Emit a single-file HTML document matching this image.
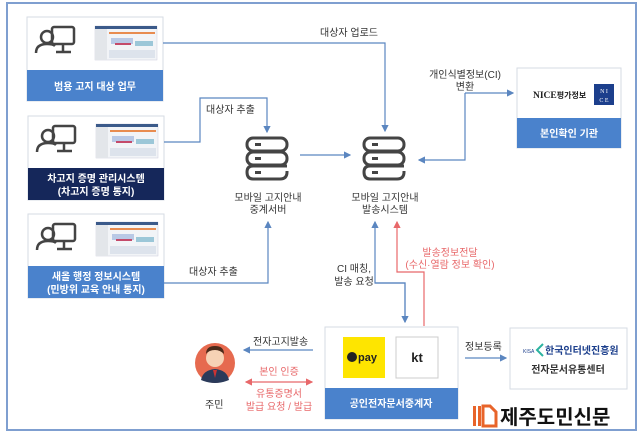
<!DOCTYPE html>
<html><head><meta charset="utf-8"><style>
body{margin:0;background:#fff;}
svg{display:block;font-family:"Liberation Sans","Noto Sans CJK KR",sans-serif;}
</style></head><body>
<svg width="642" height="438" viewBox="0 0 642 438" xmlns="http://www.w3.org/2000/svg">
<defs>
<marker id="ab" markerWidth="6" markerHeight="6" refX="5" refY="3" orient="auto"><path d="M0,0 L6,3 L0,6z" fill="#5b86c0"/></marker>
<marker id="ar" markerWidth="6" markerHeight="6" refX="5" refY="3" orient="auto"><path d="M0,0 L6,3 L0,6z" fill="#e8686a"/></marker>
<marker id="arS" markerWidth="6" markerHeight="6" refX="1" refY="3" orient="auto"><path d="M6,0 L0,3 L6,6z" fill="#e8686a"/></marker>
<g id="pc">
<circle cx="0" cy="0" r="6" fill="none" stroke="#444" stroke-width="2.5"/>
<path d="M-11,16 Q-11,7 0,7 Q6,7 8,9" fill="none" stroke="#444" stroke-width="2.5"/>
<rect x="5" y="-10" width="22" height="17" rx="2" fill="none" stroke="#444" stroke-width="2.5"/>
<path d="M16,7 V14 M9,15 H24" stroke="#444" stroke-width="2.5"/>
</g>
<g id="scr">
<rect x="0" y="0" width="62" height="34" fill="#f2f4f7" stroke="#ccd" stroke-width="0.5"/>
<rect x="0" y="0" width="62" height="3" fill="#3b5a8a"/>
<rect x="0" y="3" width="12" height="31" fill="#e3e6ea"/>
<rect x="14" y="6" width="46" height="2" fill="#e88c50"/>
<rect x="16" y="12" width="22" height="6" fill="#b9c9e6"/>
<rect x="40" y="15" width="18" height="5" fill="#9cc7d8"/>
<rect x="14" y="24" width="46" height="8" fill="#dde3ec"/>
<rect x="20" y="17" width="16" height="2" fill="#c44a6a"/>
</g>
<g id="srv" fill="none" stroke="#444" stroke-width="3">
<rect x="0" y="0" width="40" height="13" rx="6"/>
<rect x="0" y="14" width="40" height="13" rx="6"/>
<path d="M40,33 V34 Q40,41 33,41 H6 Q0,41 0,34 V34 Q0,28 6,28 H40"/>
<path d="M8,6.5 H14 M8,20.5 H14 M8,34.5 H14"/>
</g>
</defs>
<rect x="7" y="3" width="629" height="427" fill="#fff" stroke="#7f9fd0" stroke-width="2"/>

<!-- box1 -->
<rect x="27" y="17" width="136" height="84" fill="#fff" stroke="#d6dbe3"/>
<rect x="27" y="70" width="136" height="31" fill="#4a82cc"/>
<use href="#pc" x="47" y="37"/>
<use href="#scr" x="95" y="26"/>
<text x="95" y="90" fill="#fff" font-size="10" font-weight="bold" text-anchor="middle">범용 고지 대상 업무</text>
<!-- box2 -->
<rect x="28" y="116" width="136" height="84" fill="#fff" stroke="#d6dbe3"/>
<rect x="28" y="168" width="136" height="32" fill="#15275a"/>
<use href="#pc" x="48" y="136"/>
<use href="#scr" x="96" y="124"/>
<text x="96" y="182" fill="#fff" font-size="10" font-weight="bold" text-anchor="middle">차고지 증명 관리시스템</text>
<text x="96" y="195" fill="#fff" font-size="10" font-weight="bold" text-anchor="middle">(차고지 증명 통지)</text>
<!-- box3 -->
<rect x="28" y="214" width="136" height="84" fill="#fff" stroke="#d6dbe3"/>
<rect x="28" y="266" width="136" height="32" fill="#4a82cc"/>
<use href="#pc" x="48" y="234"/>
<use href="#scr" x="96" y="222"/>
<text x="96" y="280" fill="#fff" font-size="10" font-weight="bold" text-anchor="middle">새올 행정 정보시스템</text>
<text x="96" y="293" fill="#fff" font-size="10" font-weight="bold" text-anchor="middle">(민방위 교육 안내 통지)</text>

<!-- servers -->
<use href="#srv" x="247" y="138"/>
<use href="#srv" x="364" y="138"/>
<g font-size="10" fill="#333" text-anchor="middle">
<text x="268" y="201">모바일 고지안내</text><text x="268" y="213">중계서버</text>
<text x="385" y="201">모바일 고지안내</text><text x="385" y="213">발송시스템</text>
</g>

<!-- connectors -->
<g fill="none" stroke="#5b86c0" stroke-width="1.2">
<path d="M163,43 H385 V131" marker-end="url(#ab)"/>
<path d="M164,142 H200 V98 H267 V132" marker-end="url(#ab)"/>
<path d="M300,155 H350" marker-end="url(#ab)"/>
<path d="M465,93 H513" marker-end="url(#ab)"/>
<path d="M465,93 V160 H419" marker-end="url(#ab)"/>
<path d="M164,283 H268 V222" marker-end="url(#ab)"/>
<path d="M405,322 V283 H375 V222" marker-end="url(#ab)"/>
<path d="M375,283 H405 V322" marker-end="url(#ab)"/>
<path d="M313,350 H244" marker-end="url(#ab)"/>
<path d="M465,358 H506" marker-end="url(#ab)"/>
</g>
<g fill="none" stroke="#e8686a" stroke-width="1.2">
<path d="M424,326 V272 H397 V222" marker-end="url(#ar)"/>
<path d="M246,382 H312" marker-end="url(#ar)" marker-start="url(#arS)"/>
</g>
<g font-size="10" fill="#333">
<text x="320" y="36">대상자 업로드</text>
<text x="206" y="113">대상자 추출</text>
<text x="189" y="275">대상자 추출</text>
<text x="465" y="78" text-anchor="middle">개인식별정보(CI)</text>
<text x="465" y="90" text-anchor="middle">변환</text>
<text x="354" y="272" text-anchor="middle">CI 매칭,</text>
<text x="354" y="285" text-anchor="middle">발송 요청</text>
<text x="253" y="345">전자고지발송</text>
<text x="465" y="350">정보등록</text>
<text x="205" y="408">주민</text>
</g>
<g font-size="10" fill="#e8686a" text-anchor="middle">
<text x="450" y="256">발송정보전달</text>
<text x="450" y="268">(수신·열람 정보 확인)</text>
<text x="279" y="375">본인 인증</text>
<text x="279" y="397">유통증명서</text>
<text x="279" y="410">발급 요청 / 발급</text>
</g>

<!-- NICE -->
<rect x="517" y="68" width="104" height="80" fill="#fff" stroke="#d6dbe3"/>
<rect x="517" y="118" width="104" height="30" fill="#4a82cc"/>
<text x="533" y="98" font-family="Liberation Serif,serif" font-size="9.5" font-weight="bold" fill="#222">NICE<tspan font-family="Noto Sans CJK KR" font-size="8">평가정보</tspan></text>
<rect x="594" y="84" width="20" height="21" fill="#1c3f8c"/>
<text x="604" y="93" font-size="6" fill="#fff" text-anchor="middle" font-family="Liberation Serif,serif">N I</text>
<text x="604" y="102" font-size="6" fill="#fff" text-anchor="middle" font-family="Liberation Serif,serif">C E</text>
<text x="569" y="137" fill="#fff" font-size="10" font-weight="bold" text-anchor="middle">본인확인 기관</text>

<!-- center box -->
<rect x="325" y="327" width="133" height="92" fill="#fff" stroke="#d6dbe3"/>
<rect x="325" y="388" width="133" height="31" fill="#4a82cc"/>
<rect x="343" y="337" width="42" height="41" fill="#fee500"/>
<circle cx="352" cy="357" r="5" fill="#222"/>
<text x="358" y="361" font-size="11" font-weight="bold" fill="#222">pay</text>
<rect x="396" y="337" width="42" height="41" fill="#fff" stroke="#ccc"/>
<text x="417" y="362" font-size="13" font-weight="bold" fill="#222" text-anchor="middle">kt</text>
<text x="391" y="407" fill="#fff" font-size="10" font-weight="bold" text-anchor="middle">공인전자문서중계자</text>

<!-- KISA -->
<rect x="510" y="328" width="117" height="61" fill="#fff" stroke="#d6dbe3"/>
<text x="523" y="353" font-size="5" fill="#1c3f8c">KISA</text>
<path d="M543,344 L537,350 L543,356" fill="none" stroke="#2bb3a0" stroke-width="2"/>
<text x="545" y="354" font-size="10" font-weight="bold" fill="#1c3f8c">한국인터넷진흥원</text>
<text x="568" y="373" font-size="10" font-weight="bold" fill="#333" text-anchor="middle">전자문서유통센터</text>

<!-- person -->
<circle cx="215" cy="363" r="20" fill="#e66a4f"/>
<circle cx="215" cy="358" r="9" fill="#f6d2b5"/>
<path d="M206,354 Q206,346 215,346 Q224,346 224,354 Q220,350 215,350 Q209,350 206,354z" fill="#4a2a1a"/>
<path d="M201,380 Q203,370 215,369 Q227,370 229,380 Q222,383 215,383 Q208,383 201,380z" fill="#2a3a5a"/>
<path d="M213,370 L215,378 L217,370z" fill="#c33"/>

<!-- logo -->
<rect x="473" y="406" width="3" height="20" fill="#e8642a"/>
<rect x="478" y="406" width="3" height="20" fill="#e8642a"/>
<path d="M483,406 H490 L496,412 V426 H483z" fill="none" stroke="#e8642a" stroke-width="3"/>
<text x="500" y="424" font-size="20" font-weight="bold" fill="#111">제주도민신문</text>
</svg>
</body></html>
